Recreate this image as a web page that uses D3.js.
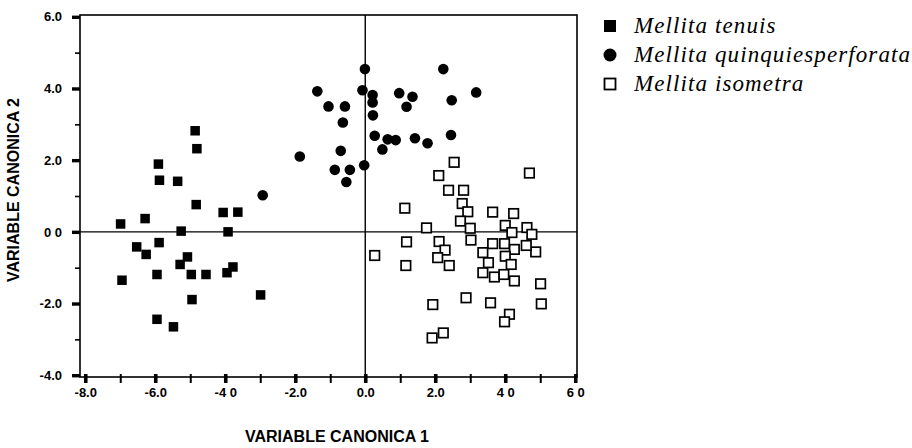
<!DOCTYPE html>
<html>
<head>
<meta charset="utf-8">
<script src="https://cdn.jsdelivr.net/npm/d3@7"></script>
<style>
  body { margin: 0; background: #fff; }
  svg { display: block; }
</style>
</head>
<body>
<div id="chart"></div>
<script>
// Mellita tenuis (filled squares)
var tenuisX = [-4.86, -4.81, -5.91, -5.88, -5.36, -4.83, -4.06, -3.64, -6.99, -6.29, -5.26, -3.92, -5.89, -6.53, -6.26, -5.08, -5.29, -3.78, -3.95, -6.95, -5.95, -4.97, -4.55, -2.99, -4.95, -5.95, -5.48];
var tenuisY = [2.82, 2.32, 1.89, 1.44, 1.41, 0.76, 0.54, 0.55, 0.22, 0.37, 0.02, 0.0, -0.30, -0.42, -0.63, -0.70, -0.91, -0.98, -1.14, -1.35, -1.19, -1.19, -1.19, -1.76, -1.89, -2.44, -2.65];

// Mellita quinquiesperforata (filled circles)
var quinqX = [-0.01, -1.37, -0.08, 0.21, 0.21, -1.05, -0.58, 0.22, -0.64, 0.97, 1.35, 1.18, 0.27, 0.64, 0.87, 1.42, 0.49, -0.70, -1.87, -0.87, -0.44, -0.03, -0.54, 2.23, 3.17, 2.47, 2.45, 1.78, -2.93];
var quinqY = [4.54, 3.92, 3.95, 3.82, 3.61, 3.50, 3.50, 3.25, 3.05, 3.87, 3.77, 3.49, 2.68, 2.58, 2.56, 2.61, 2.30, 2.26, 2.10, 1.73, 1.73, 1.86, 1.39, 4.54, 3.89, 3.67, 2.70, 2.47, 1.02];

// Mellita isometra (open squares)
var isoX = [2.54, 2.10, 4.69, 2.38, 2.81, 2.77, 2.93, 2.72, 3.00, 3.02, 1.13, 1.75, 1.18, 0.27, 2.11, 2.28, 2.07, 2.40, 1.16, 2.88, 1.93, 2.23, 1.91, 3.64, 4.24, 4.00, 4.19, 4.62, 4.76, 4.87, 3.64, 3.98, 4.26, 3.36, 4.00, 4.17, 3.52, 3.36, 3.69, 3.96, 4.26, 5.01, 3.58, 5.03, 4.12, 3.98, 4.60];
var isoY = [1.94, 1.57, 1.64, 1.16, 1.16, 0.79, 0.56, 0.30, 0.10, -0.23, 0.66, 0.11, -0.28, -0.66, -0.27, -0.51, -0.72, -0.94, -0.94, -1.84, -2.03, -2.82, -2.96, 0.55, 0.51, 0.18, -0.02, 0.12, -0.07, -0.56, -0.33, -0.33, -0.49, -0.58, -0.68, -0.91, -0.86, -1.14, -1.26, -1.19, -1.37, -1.45, -1.98, -2.01, -2.30, -2.51, -0.38];

var xTickValues = [-8, -6, -4, -2, 0, 2, 4, 6];
var xTickLabels = ["-8.0", "-6.0", "-4 0", "-2.0", "0.0", "2.0", "4 0", "6 0"];
var xMinorValues = [-7, -5, -3, -1, 1, 3, 5];
var yTickValues = [-4, -2, 0, 2, 4, 6];
var yTickLabels = ["-4.0", "-2.0", "0 0", "2.0", "4.0", "6.0"];
var yMinorValues = [-3, -1, 1, 3, 5];

var seriesNames = ["Mellita tenuis", "Mellita quinquiesperforata", "Mellita isometra"];

var width = 912, height = 448;
var plotL = 80, plotR = 577, plotT = 15, plotB = 377;

var svg = d3.select("#chart").append("svg")
    .attr("width", width).attr("height", height)
    .style("font-family", "'Liberation Sans', Arial, sans-serif");

svg.append("rect").attr("width", width).attr("height", height).attr("fill", "#fff");

var x = d3.scaleLinear().domain([-8.15, 6.05]).range([plotL, plotR]);
var y = d3.scaleLinear().domain([-4.05, 6.05]).range([plotB, plotT]);

// frame
svg.append("rect")
    .attr("x", plotL).attr("y", plotT)
    .attr("width", plotR - plotL).attr("height", plotB - plotT)
    .attr("fill", "none").attr("stroke", "#000").attr("stroke-width", 1.6);

// zero lines
svg.append("line")
    .attr("x1", x(0)).attr("x2", x(0)).attr("y1", plotT).attr("y2", plotB)
    .attr("stroke", "#000").attr("stroke-width", 1.4);
svg.append("line")
    .attr("x1", plotL).attr("x2", plotR).attr("y1", y(0)).attr("y2", y(0))
    .attr("stroke", "#000").attr("stroke-width", 1.4);

// y axis
var yAxis = svg.append("g")
    .attr("transform", "translate(" + plotL + ",0)")
    .call(d3.axisLeft(y).tickValues(yTickValues).tickSize(8).tickPadding(10)
        .tickFormat(function (d, i) { return yTickLabels[i]; }));
yAxis.select(".domain").remove();
yAxis.selectAll(".tick line").attr("stroke-width", 3.4);
yAxis.selectAll(".tick text").style("font-size", "13px").style("font-weight", "bold").attr("fill", "#000");

var yMinor = svg.append("g")
    .attr("transform", "translate(" + plotL + ",0)")
    .call(d3.axisLeft(y).tickValues(yMinorValues).tickSize(5).tickFormat(""));
yMinor.select(".domain").remove();
yMinor.selectAll(".tick line").attr("stroke-width", 1.6);

// x axis
var xAxis = svg.append("g")
    .attr("transform", "translate(0," + plotB + ")")
    .call(d3.axisBottom(x).tickValues(xTickValues).tickSize(6).tickPadding(5)
        .tickFormat(function (d, i) { return xTickLabels[i]; }));
xAxis.select(".domain").remove();
xAxis.selectAll(".tick line").attr("y1", -3).attr("stroke-width", 3.6);
xAxis.selectAll(".tick text").style("font-size", "13px").style("font-weight", "bold").attr("fill", "#000");

var xMinor = svg.append("g")
    .attr("transform", "translate(0," + plotB + ")")
    .call(d3.axisBottom(x).tickValues(xMinorValues).tickSize(6).tickFormat(""));
xMinor.select(".domain").remove();
xMinor.selectAll(".tick line").attr("y1", -3).attr("stroke-width", 2);

// axis titles
svg.append("text")
    .attr("x", 337).attr("y", 442)
    .attr("text-anchor", "middle")
    .style("font-size", "16px").style("font-weight", "bold")
    .text("VARIABLE CANONICA 1");

svg.append("text")
    .attr("transform", "translate(19,190) rotate(-90)")
    .attr("text-anchor", "middle")
    .style("font-size", "16px").style("font-weight", "bold")
    .text("VARIABLE CANONICA 2");

// points
var size = 9.5;
var tenuis = d3.zip(tenuisX, tenuisY);
var quinq = d3.zip(quinqX, quinqY);
var iso = d3.zip(isoX, isoY);

svg.append("g").selectAll("rect").data(iso).join("rect")
    .attr("x", function (d) { return x(d[0]) - size / 2; })
    .attr("y", function (d) { return y(d[1]) - size / 2; })
    .attr("width", size).attr("height", size)
    .attr("fill", "#fff").attr("stroke", "#000").attr("stroke-width", 1.7);

svg.append("g").selectAll("rect").data(tenuis).join("rect")
    .attr("x", function (d) { return x(d[0]) - size / 2; })
    .attr("y", function (d) { return y(d[1]) - size / 2; })
    .attr("width", size).attr("height", size)
    .attr("fill", "#000");

svg.append("g").selectAll("circle").data(quinq).join("circle")
    .attr("cx", function (d) { return x(d[0]); })
    .attr("cy", function (d) { return y(d[1]); })
    .attr("r", 5.3)
    .attr("fill", "#000");

// legend
var legend = svg.append("g").attr("transform", "translate(610,0)");
var rowY = [26, 55, 84];
legend.append("rect").attr("x", -6).attr("y", rowY[0] - 6).attr("width", 12).attr("height", 12).attr("fill", "#000");
legend.append("circle").attr("cx", 0).attr("cy", rowY[1]).attr("r", 6.5).attr("fill", "#000");
legend.append("rect").attr("x", -5.5).attr("y", rowY[2] - 5.5).attr("width", 11).attr("height", 11)
    .attr("fill", "#fff").attr("stroke", "#000").attr("stroke-width", 1.8);

legend.selectAll("text.leg").data(seriesNames).join("text")
    .attr("class", "leg")
    .attr("x", 24)
    .attr("y", function (d, i) { return rowY[i] + 7; })
    .style("font-family", "'Liberation Serif', 'Times New Roman', serif")
    .style("font-style", "italic")
    .style("font-size", "23px")
    .style("letter-spacing", "1.1px")
    .text(function (d) { return d; });
</script>
</body>
</html>
